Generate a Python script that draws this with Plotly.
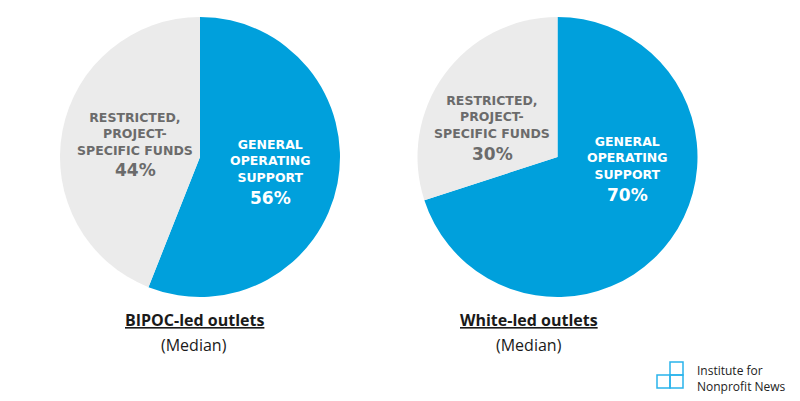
import plotly.graph_objs as go

# funding mix, median share of revenue
categories = ["General operating support", "Restricted, project-specific funds"]
label_lines = [["GENERAL", "OPERATING", "SUPPORT"], ["RESTRICTED,", "PROJECT-", "SPECIFIC FUNDS"]]
bipoc_values = [56, 44]
white_values = [70, 30]
group_titles = ["BIPOC-led outlets", "White-led outlets"]
group_note = "(Median)"

W, H = 800, 401
OFF = 8  # page body margin pushes the figure 8px right/down
BLUE = "#00A0DC"
GREY = "#EBEBEB"
TEXT_GREY = "#6B6B6B"
FONT = "Open Sans"
LABEL_FONT = "DejaVu Sans"


def px(x):
    return (x - OFF) / W


def py(y):
    return 1 - (y - OFF) / H


fig = go.Figure()

# pie domains (page pixels)
pies = [
    (bipoc_values, [60, 340]),
    (white_values, [417, 698]),
]
for vals, (x0, x1) in pies:
    fig.add_trace(go.Pie(
        labels=categories,
        values=vals,
        sort=False,
        direction="clockwise",
        rotation=0,
        textinfo="none",
        hoverinfo="label+percent",
        marker=dict(colors=[BLUE, GREY], line=dict(width=0)),
        domain=dict(x=[px(x0), px(x1)], y=[py(297), py(17)]),
        showlegend=False,
    ))

annotations = []

# slice labels: (x center, y of middle line, y of percentage) for [general, restricted]
label_pos = [
    [(270, 161, 198), (135, 134, 170)],
    [(627, 158, 195), (492, 117, 154)],
]
for vals, positions in zip([bipoc_values, white_values], label_pos):
    for i, (cx, cy, cp) in enumerate(positions):
        color = "white" if i == 0 else TEXT_GREY
        annotations.append(dict(
            x=px(cx), y=py(cy), xref="paper", yref="paper",
            text="<br>".join(label_lines[i]),
            showarrow=False, xanchor="center", yanchor="middle", align="center",
            font=dict(family=LABEL_FONT, size=12.5, color=color, weight="bold"),
        ))
        annotations.append(dict(
            x=px(cx), y=py(cp), xref="paper", yref="paper",
            text=f"{vals[i]}%",
            showarrow=False, xanchor="center", yanchor="middle",
            font=dict(family=LABEL_FONT, size=17, color=color, weight="bold"),
        ))

# group titles under each pie
for title, cx in zip(group_titles, [194, 529]):
    annotations.append(dict(
        x=px(cx), y=py(320), xref="paper", yref="paper",
        text=f"<u>{title}</u>", showarrow=False, xanchor="center", yanchor="middle",
        font=dict(family=FONT, size=16, color="#1a1a1a", weight="bold"),
    ))
    annotations.append(dict(
        x=px(cx), y=py(345), xref="paper", yref="paper",
        text=group_note, showarrow=False, xanchor="center", yanchor="middle",
        font=dict(family=FONT, size=16, color="#1a1a1a"),
    ))

# logo text
annotations.append(dict(
    x=px(695), y=py(378), xref="paper", yref="paper",
    text="Institute for<br>Nonprofit News", showarrow=False,
    xanchor="left", yanchor="middle", align="left",
    font=dict(family=FONT, size=12, color="#222222"),
))

# logo squares
shapes = []
for sx, sy in [(670, 362), (657, 375), (670, 375)]:
    shapes.append(dict(
        type="rect", xref="paper", yref="paper",
        x0=px(sx), x1=px(sx + 13), y0=py(sy + 13), y1=py(sy),
        line=dict(color="#2AB4EC", width=1.5), fillcolor="rgba(0,0,0,0)",
    ))

fig.update_layout(
    width=W, height=H,
    margin=dict(l=0, r=0, t=0, b=0),
    paper_bgcolor="white", plot_bgcolor="white",
    annotations=annotations,
    shapes=shapes,
)

fig.write_html("out.html")
